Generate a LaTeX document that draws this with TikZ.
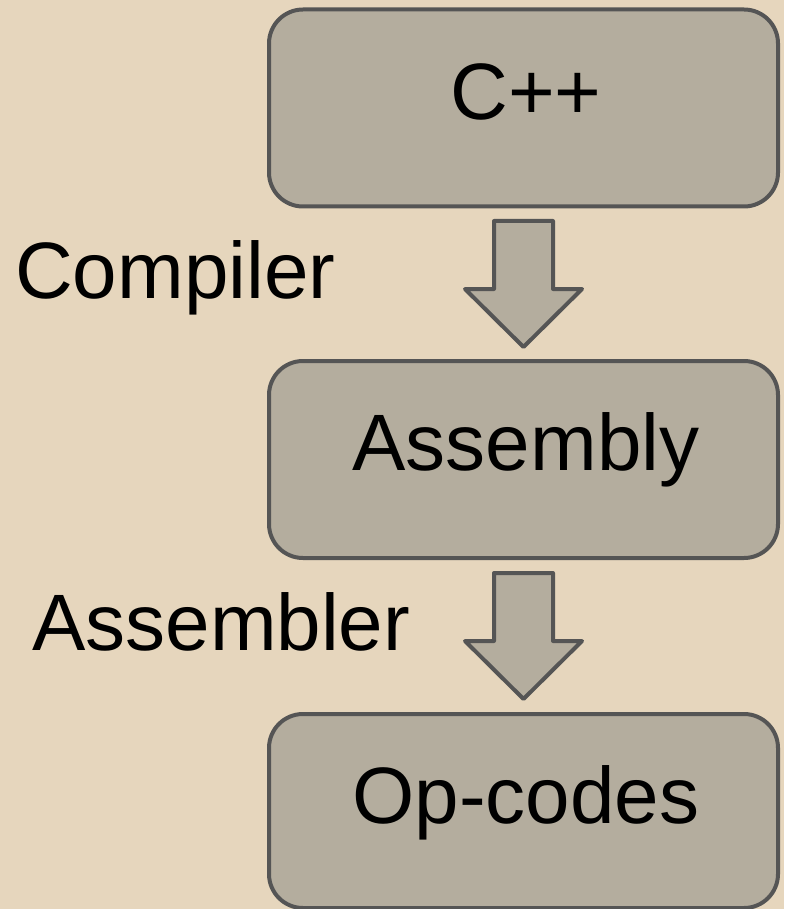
\documentclass[tikz,border=0pt]{standalone}
\usepackage{fontspec}
\setmainfont{Liberation Sans}
\definecolor{pagebg}{HTML}{E6D6BD}
\definecolor{boxfill}{HTML}{B4AD9E}
\definecolor{boxline}{HTML}{555555}
\begin{document}
\begin{tikzpicture}[x=1pt,y=-1pt,
  stagebox/.style={draw=boxline, fill=boxfill, line width=4pt, rounded corners=34pt,
    minimum width=509pt, minimum height=197pt, inner sep=0pt},
  bigtext/.style={font=\fontsize{80}{92}\selectfont, inner sep=0pt, anchor=base},
  flowarrow/.style={draw=boxline, fill=boxfill, line width=4pt, line join=round}]
  % page
  \fill[pagebg] (0,0) rectangle (784,909);
  \useasboundingbox (0,0) rectangle (784,909);

  % stages
  \node[stagebox] (cpp) at (523.5,108) {};
  \node[stagebox] (asm) at (523.5,459.5) {};
  \node[stagebox, minimum height=194pt] (ops) at (523.5,811) {};
  \node[bigtext] (cpptext) at (526,120) {C++};
  \node[bigtext] (asmtext) at (526,470) {Assembly};
  \node[bigtext] (opstext) at (526,823) {Op-codes};

  % block arrows between the stages
  \coordinate (arrA) at (523.5,221);
  \coordinate (arrB) at (523.5,573);
  \draw[flowarrow] (arrA) ++(-29.5,0) -- ++(0,68) -- ++(-29,0) -- ++(58.5,58)
    -- ++(58.5,-58) -- ++(-29,0) -- ++(0,-68) -- cycle;
  \draw[flowarrow] (arrB) ++(-29.5,0) -- ++(0,68) -- ++(-29,0) -- ++(58.5,58)
    -- ++(58.5,-58) -- ++(-29,0) -- ++(0,-68) -- cycle;

  % tool names
  \node[bigtext, anchor=base west] (compiler) at (15,298) {Compiler};
  \node[bigtext, anchor=base west] (assembler) at (32,650) {Assembler};
\end{tikzpicture}
\end{document}
